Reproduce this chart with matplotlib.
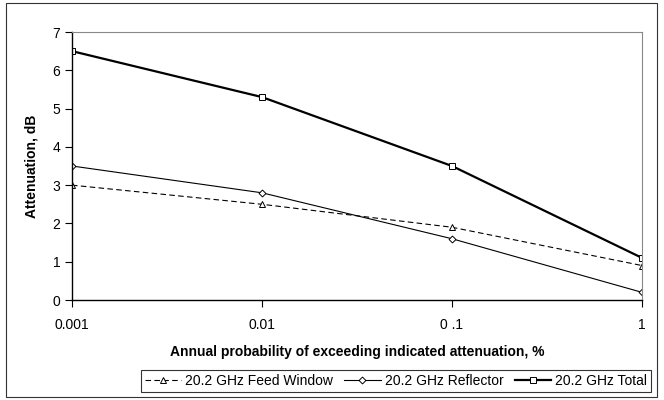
import matplotlib
matplotlib.use("Agg")
import matplotlib.pyplot as plt
from matplotlib.patches import Rectangle

plt.rcParams['font.family'] = ['Liberation Sans', 'DejaVu Sans']

probability = [0.001, 0.01, 0.1, 1]
feed_window = [3.0, 2.5, 1.9, 0.9]
reflector = [3.5, 2.8, 1.6, 0.2]
total = [6.5, 5.3, 3.5, 1.1]
x_tick_labels = ["0.001", "0.01", "0 .1", "1"]

fig = plt.figure(figsize=(6.64, 4.0), dpi=100)
fig.patches.append(Rectangle((6/664, 3/400), 651/664, 394/400, transform=fig.transFigure,
                             fill=False, edgecolor='#333333', linewidth=0.8))
ax = fig.add_axes([72/664, 100/400, 570/664, 268/400])

ax.plot(probability, feed_window, color='black', lw=0.8, ls=(0, (5, 3)), marker='^',
        ms=4.5, mfc='white', mec='black', mew=0.7, label='20.2 GHz Feed Window')
ax.plot(probability, reflector, color='black', lw=0.8, marker='D',
        ms=3.5, mfc='white', mec='black', mew=0.7, label='20.2 GHz Reflector')
ax.plot(probability, total, color='black', lw=1.6, marker='s',
        ms=4.5, mfc='white', mec='black', mew=0.7, label='20.2 GHz Total')

ax.set_xscale('log')
ax.set_xlim(0.001, 1)
ax.set_ylim(0, 7)
ax.set_xticks(probability)
ax.set_xticklabels(x_tick_labels)
ax.minorticks_off()
ax.set_yticks(range(0, 8))
ax.tick_params(axis='both', labelsize=10, length=5, width=0.8, direction='out')
ax.tick_params(axis='x', pad=8)
for s in ['top', 'right']:
    ax.spines[s].set_color('#888888')
    ax.spines[s].set_linewidth(0.8)
for s in ['left', 'bottom']:
    ax.spines[s].set_color('black')
    ax.spines[s].set_linewidth(1.0)

ax.set_xlabel('Annual probability of exceeding indicated attenuation, %',
              fontsize=10, fontweight='bold', labelpad=9)
ax.set_ylabel('Attenuation, dB', fontsize=10, fontweight='bold', labelpad=10)

leg = fig.legend(loc='center', bbox_to_anchor=(396/664, 1 - 381/400), ncol=3,
                 fontsize=10, frameon=True, fancybox=False, edgecolor='black',
                 handlelength=2.6, columnspacing=0.8, handletextpad=0.3,
                 borderpad=0.3)
leg.get_frame().set_linewidth(0.8)

fig.savefig('out.png', dpi=100)
